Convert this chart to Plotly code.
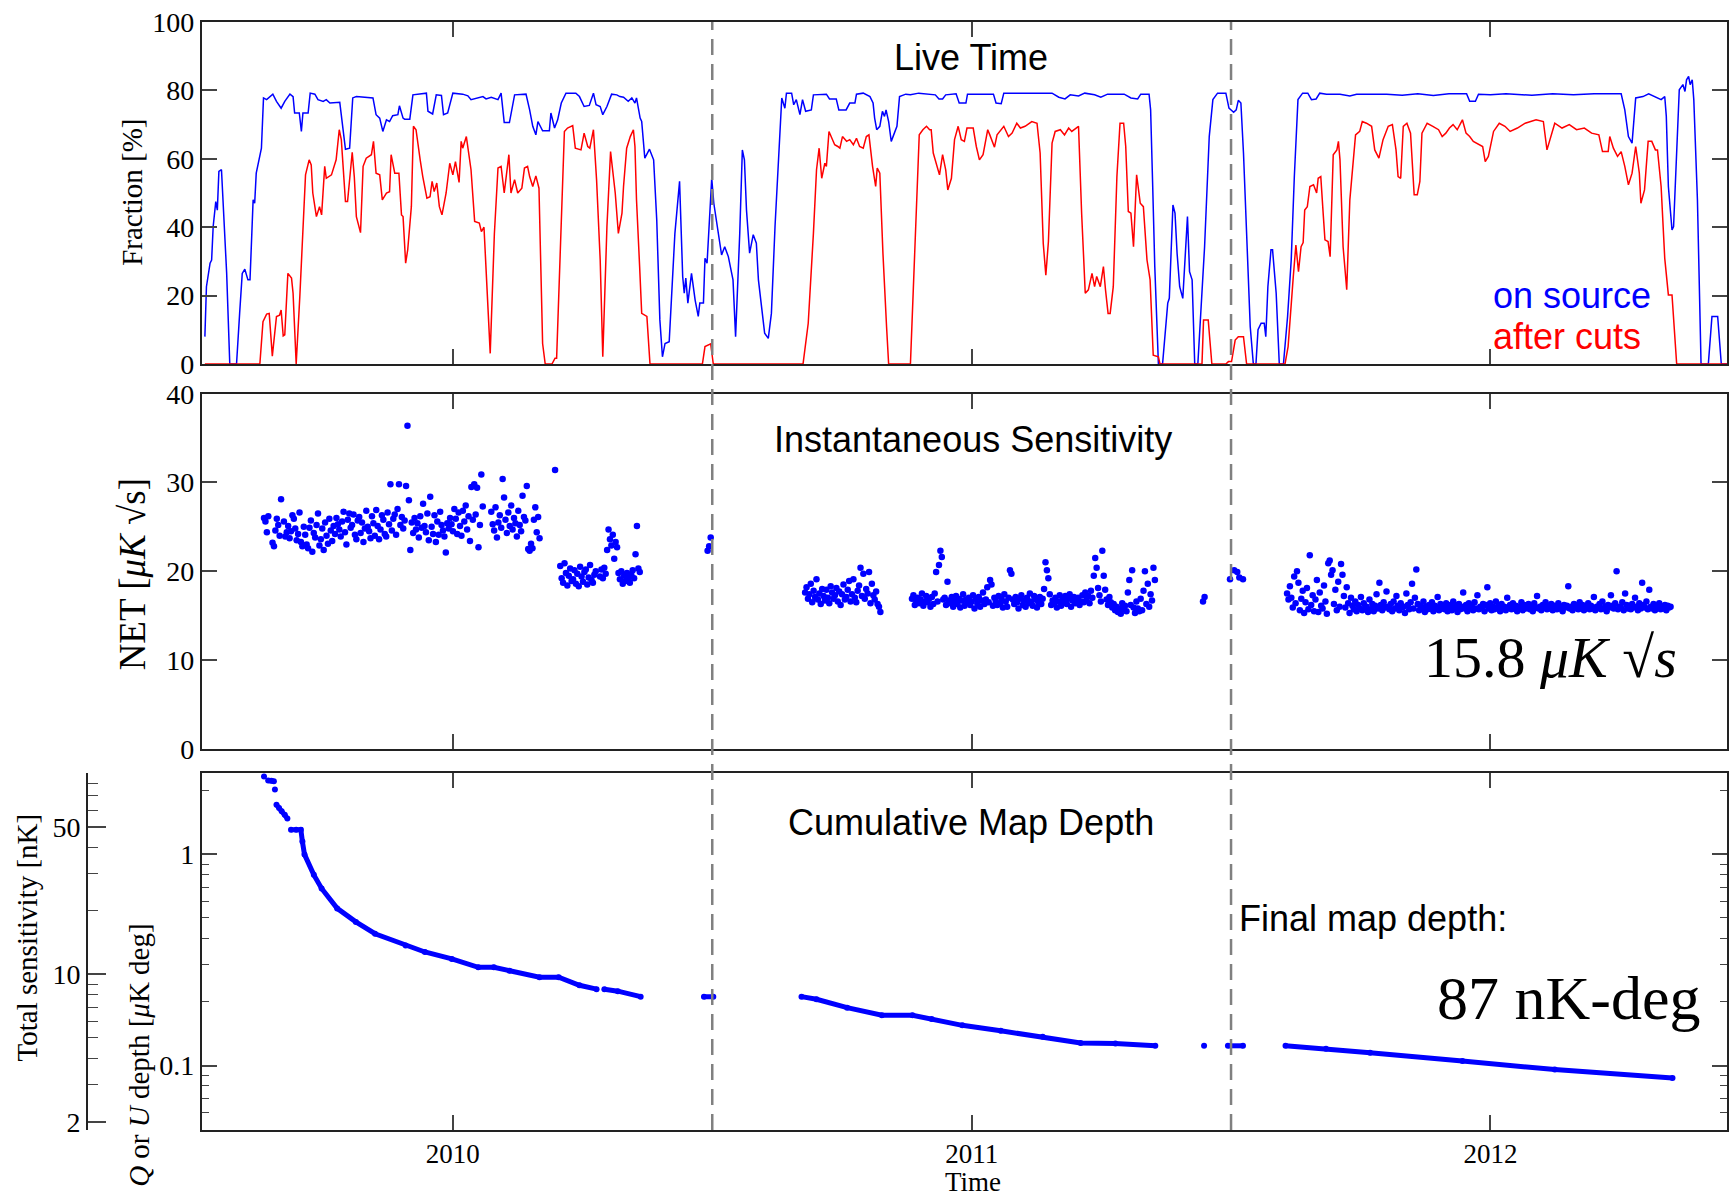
import plotly.graph_objects as go
import math

# ---------------- data ----------------
YEAR_TICKS = [2010, 2011, 2012]
YEAR_LABELS = ["2010", "2011", "2012"]
SEASON_BREAKS = [2010.5, 2011.5]
X_RANGE = [2009.516, 2012.456]

# Live time, fraction [%]  (decimal year, value)
on_source = [
    (2009.522, 8), (2009.525, 22.6), (2009.532, 29.5), (2009.535, 30.4), (2009.538, 40.2), (2009.543, 47.5),
    (2009.546, 45), (2009.549, 56.3), (2009.554, 56.8), (2009.557, 48), (2009.564, 26.5), (2009.570, 0),
    (2009.583, 0), (2009.589, 14.8), (2009.594, 26.5), (2009.599, 27.7), (2009.605, 24.6), (2009.609, 24.6),
    (2009.615, 48), (2009.618, 47), (2009.621, 55.8), (2009.631, 63.1), (2009.635, 77.8), (2009.641, 77.3),
    (2009.653, 78.9), (2009.660, 76.8), (2009.669, 74.8), (2009.676, 76.8), (2009.686, 78.9), (2009.692, 78.2),
    (2009.695, 73.4), (2009.704, 73.4), (2009.708, 68), (2009.711, 73.4), (2009.721, 73.4), (2009.725, 79.2),
    (2009.734, 78.9), (2009.740, 77.3), (2009.750, 76.8), (2009.756, 77.3), (2009.763, 76.3), (2009.782, 76.5),
    (2009.788, 68.5), (2009.793, 62.8), (2009.801, 63.1), (2009.807, 77.8), (2009.814, 78.2), (2009.827, 78),
    (2009.846, 77.8), (2009.852, 72.9), (2009.859, 71.9), (2009.865, 68), (2009.872, 71.4), (2009.878, 70.9),
    (2009.884, 72.6), (2009.894, 72.9), (2009.897, 75.5), (2009.904, 71.9), (2009.907, 71.6), (2009.917, 71.6),
    (2009.923, 78.7), (2009.949, 79.2), (2009.952, 73.9), (2009.961, 73.1), (2009.968, 78.7), (2009.978, 78.5),
    (2009.982, 72.9), (2009.990, 73.4), (2010.000, 79.2), (2010.019, 78.9), (2010.029, 78.4), (2010.035, 77.3),
    (2010.058, 78.2), (2010.064, 77.5), (2010.074, 78), (2010.087, 77.3), (2010.093, 79.2), (2010.099, 70.6),
    (2010.109, 70.6), (2010.119, 78.7), (2010.141, 78.9), (2010.148, 74.3), (2010.154, 69.5), (2010.160, 67),
    (2010.164, 70.9), (2010.173, 68.2), (2010.186, 68.2), (2010.189, 73.4), (2010.196, 69), (2010.202, 71.4),
    (2010.209, 76.3), (2010.218, 79.2), (2010.237, 79.2), (2010.244, 78.2), (2010.253, 75.3), (2010.263, 75.6),
    (2010.271, 79.2), (2010.276, 75.8), (2010.284, 75.3), (2010.289, 72.9), (2010.297, 75.3), (2010.306, 78.9),
    (2010.316, 78.7), (2010.322, 78.2), (2010.329, 78), (2010.338, 76.8), (2010.345, 77.8), (2010.351, 76.3),
    (2010.354, 77.8), (2010.361, 71.9), (2010.364, 70.9), (2010.370, 60.2), (2010.379, 62.8), (2010.387, 59.7),
    (2010.393, 42.1), (2010.399, 12.9), (2010.404, 2.1), (2010.409, 6), (2010.417, 6.5), (2010.428, 38.2),
    (2010.437, 53.4), (2010.443, 25.6), (2010.446, 20.7), (2010.449, 25.1), (2010.453, 17.8), (2010.460, 26.5),
    (2010.467, 18.7), (2010.473, 13.9), (2010.476, 17.8), (2010.483, 17.8), (2010.486, 30.9), (2010.490, 29.5),
    (2010.499, 54.3), (2010.503, 47), (2010.512, 37.3), (2010.518, 31.9), (2010.524, 34.3), (2010.531, 31.4),
    (2010.540, 24.6), (2010.545, 8), (2010.553, 38.2), (2010.558, 62.6), (2010.562, 59.7), (2010.566, 45),
    (2010.572, 32.4), (2010.579, 37.8), (2010.585, 35.3), (2010.589, 24.6), (2010.595, 16.8), (2010.601, 9),
    (2010.608, 7.5), (2010.614, 14.8), (2010.621, 40.2), (2010.627, 59.7), (2010.634, 77.8), (2010.640, 74.8),
    (2010.643, 79.2), (2010.653, 79.2), (2010.657, 75.8), (2010.662, 77.3), (2010.669, 72.9), (2010.674, 77.3),
    (2010.680, 73.9), (2010.691, 74.3), (2010.695, 78.7), (2010.720, 78.9), (2010.726, 77.5), (2010.739, 77.5),
    (2010.744, 74.3), (2010.758, 74.3), (2010.765, 76.3), (2010.775, 76.3), (2010.778, 78.9), (2010.791, 79.2),
    (2010.804, 78.2), (2010.810, 76.3), (2010.813, 71.9), (2010.817, 68.5), (2010.823, 69.5), (2010.828, 73.9),
    (2010.832, 72.4), (2010.835, 74.3), (2010.840, 70.9), (2010.845, 65.1), (2010.850, 67), (2010.856, 69.5),
    (2010.861, 78.2), (2010.873, 78.9), (2010.882, 78.7), (2010.898, 79.2), (2010.930, 78.7), (2010.937, 77.5),
    (2010.944, 77.5), (2010.950, 78.7), (2010.970, 79), (2010.976, 76.3), (2010.989, 76.3), (2010.992, 78.9),
    (2011.033, 78.9), (2011.042, 78.9), (2011.047, 76.3), (2011.057, 76.1), (2011.062, 79.2), (2011.155, 79.2),
    (2011.168, 78), (2011.180, 77.5), (2011.190, 78.7), (2011.206, 78.4), (2011.218, 79.2), (2011.237, 78.7),
    (2011.249, 78), (2011.262, 78.9), (2011.294, 78.9), (2011.307, 77.8), (2011.320, 77.5), (2011.326, 78.9),
    (2011.342, 78.9), (2011.345, 74.3), (2011.349, 51.9), (2011.353, 28.5), (2011.360, 0), (2011.368, 0),
    (2011.378, 17.8), (2011.381, 19.2), (2011.388, 46.5), (2011.392, 44.1), (2011.396, 32.4), (2011.401, 22.6),
    (2011.407, 19.2), (2011.416, 43.1), (2011.420, 27), (2011.425, 24.6), (2011.430, 0), (2011.436, 0),
    (2011.449, 34.3), (2011.458, 66.5), (2011.465, 77.3), (2011.474, 79.2), (2011.490, 79.2), (2011.496, 74.8),
    (2011.505, 73.6), (2011.510, 74.3), (2011.514, 77.1), (2011.519, 76.3), (2011.524, 61.7), (2011.530, 35.3),
    (2011.537, 10.9), (2011.543, 0), (2011.548, 0), (2011.552, 10), (2011.558, 11.9), (2011.564, 11.9),
    (2011.567, 8), (2011.571, 22.6), (2011.577, 33.4), (2011.580, 33.4), (2011.587, 20.7), (2011.593, 0),
    (2011.601, 0), (2011.609, 13.9), (2011.616, 30.4), (2011.622, 54.8), (2011.629, 77.3), (2011.638, 79.2),
    (2011.648, 79.2), (2011.655, 77.3), (2011.664, 77.5), (2011.671, 79.2), (2011.684, 78.9), (2011.710, 78.9),
    (2011.729, 78.4), (2011.742, 78.9), (2011.800, 78.9), (2011.830, 78.6), (2011.860, 79.0), (2011.890, 78.5),
    (2011.920, 79.0), (2011.954, 79.0), (2011.960, 76.8), (2011.971, 76.8), (2011.977, 78.9), (2012.000, 78.7),
    (2012.030, 79.0), (2012.080, 78.6), (2012.120, 79.0), (2012.160, 78.7), (2012.200, 79.0), (2012.252, 79.0),
    (2012.259, 74.3), (2012.266, 66.5), (2012.273, 64.6), (2012.280, 77.8), (2012.294, 78.2), (2012.305, 79),
    (2012.315, 78.2), (2012.329, 77.3), (2012.336, 78.2), (2012.339, 72.4), (2012.343, 51.9), (2012.350, 39.2),
    (2012.353, 40.2), (2012.357, 54.8), (2012.364, 80.2), (2012.371, 81.7), (2012.375, 79.7), (2012.378, 83.1),
    (2012.382, 84.1), (2012.385, 81.7), (2012.389, 83.1), (2012.392, 77.3), (2012.399, 48), (2012.406, 0),
    (2012.420, 0), (2012.427, 13.9), (2012.438, 13.9), (2012.445, 0), (2012.456, 0),
]

after_cuts = [
    (2009.522, 0), (2009.628, 0), (2009.634, 12.4), (2009.641, 14.6), (2009.646, 14.8), (2009.652, 2.3),
    (2009.660, 13.9), (2009.666, 14.3), (2009.669, 15.8), (2009.673, 8.2), (2009.676, 8.5), (2009.682, 26.5),
    (2009.689, 25.1), (2009.692, 20.7), (2009.698, 0), (2009.705, 19.7), (2009.716, 55.3), (2009.723, 59.7),
    (2009.727, 58.2), (2009.730, 50), (2009.737, 43.1), (2009.743, 46), (2009.747, 43.6), (2009.753, 57.8),
    (2009.756, 54.3), (2009.766, 55.3), (2009.775, 59.7), (2009.781, 68.5), (2009.785, 65.6), (2009.788, 57.8),
    (2009.793, 47.5), (2009.797, 47.5), (2009.806, 61.9), (2009.810, 54.8), (2009.814, 43.1), (2009.822, 38.4),
    (2009.827, 57.8), (2009.833, 60.2), (2009.843, 61.2), (2009.847, 65.1), (2009.852, 55.8), (2009.859, 55.3),
    (2009.864, 48), (2009.872, 50), (2009.878, 50.4), (2009.881, 61.2), (2009.888, 55.8), (2009.896, 55.8),
    (2009.901, 43.6), (2009.904, 43.1), (2009.909, 29.5), (2009.913, 33.4), (2009.920, 46), (2009.924, 69.5),
    (2009.929, 68.5), (2009.937, 59.7), (2009.942, 54.8), (2009.950, 48.5), (2009.956, 48.9), (2009.960, 53.4),
    (2009.964, 50.4), (2009.969, 52.9), (2009.974, 46), (2009.979, 43.6), (2009.984, 48), (2009.987, 50),
    (2009.994, 58.7), (2010.000, 55.3), (2010.005, 59.2), (2010.012, 53.1), (2010.016, 65.1), (2010.019, 63.1),
    (2010.026, 66.5), (2010.035, 56.8), (2010.042, 41.7), (2010.051, 41.2), (2010.055, 38.7), (2010.060, 40),
    (2010.072, 3.1), (2010.080, 38), (2010.087, 57.3), (2010.093, 57.8), (2010.099, 50), (2010.108, 61.2),
    (2010.112, 50), (2010.119, 53.9), (2010.125, 50), (2010.133, 51.4), (2010.138, 57.3), (2010.144, 57.8),
    (2010.148, 54.8), (2010.154, 51.9), (2010.160, 55), (2010.166, 51.4), (2010.173, 6), (2010.178, 0),
    (2010.191, 0), (2010.197, 1.7), (2010.200, 1.7), (2010.205, 24.6), (2010.215, 68), (2010.221, 69),
    (2010.231, 69.7), (2010.236, 63.1), (2010.247, 62.6), (2010.253, 67.5), (2010.260, 63.6), (2010.264, 63.1),
    (2010.271, 68.5), (2010.277, 53.9), (2010.284, 30.4), (2010.289, 2.1), (2010.297, 40.2), (2010.304, 62.1),
    (2010.313, 50), (2010.319, 38.2), (2010.326, 44.1), (2010.329, 51.9), (2010.335, 63.1), (2010.342, 66.5),
    (2010.348, 68.5), (2010.351, 63.6), (2010.354, 48), (2010.360, 28.5), (2010.364, 14.8), (2010.374, 13.9),
    (2010.380, 0), (2010.481, 0), (2010.486, 5.1), (2010.497, 5.9), (2010.502, 0), (2010.675, 0),
    (2010.685, 11.9), (2010.695, 38.2), (2010.701, 56.8), (2010.706, 63.1), (2010.711, 54.3), (2010.717, 58.7),
    (2010.720, 57.8), (2010.725, 68), (2010.731, 65.6), (2010.736, 64.1), (2010.742, 63.6), (2010.746, 63.1),
    (2010.751, 66.5), (2010.759, 65.1), (2010.765, 65.6), (2010.772, 64.1), (2010.778, 66), (2010.784, 63.6),
    (2010.791, 63.1), (2010.797, 66.5), (2010.802, 67), (2010.809, 57.8), (2010.815, 51.9), (2010.818, 57.3),
    (2010.823, 55.8), (2010.829, 32.4), (2010.836, 10.9), (2010.840, 0), (2010.882, 0), (2010.890, 34.3),
    (2010.899, 67), (2010.906, 68.5), (2010.913, 69.5), (2010.919, 68.5), (2010.922, 68.5), (2010.926, 61.7),
    (2010.932, 58.7), (2010.938, 55.3), (2010.944, 61.2), (2010.950, 56.8), (2010.954, 50.9), (2010.961, 54.3),
    (2010.967, 65.6), (2010.974, 69.5), (2010.980, 65.6), (2010.986, 65.1), (2010.991, 69), (2011.003, 69),
    (2011.009, 63.6), (2011.015, 59.7), (2011.022, 61.2), (2011.031, 68.5), (2011.035, 67), (2011.044, 63.4),
    (2011.049, 67), (2011.062, 69.5), (2011.071, 66.5), (2011.078, 67.5), (2011.087, 70.4), (2011.094, 69),
    (2011.103, 69.5), (2011.116, 70.9), (2011.126, 70.4), (2011.132, 61.7), (2011.138, 35.3), (2011.143, 26),
    (2011.148, 35.8), (2011.155, 64.6), (2011.161, 68), (2011.171, 68.5), (2011.179, 67), (2011.187, 69),
    (2011.193, 68), (2011.206, 69.5), (2011.212, 44.1), (2011.219, 20.7), (2011.225, 21.7), (2011.232, 26.5),
    (2011.237, 22.6), (2011.241, 25.6), (2011.248, 22.6), (2011.254, 28.5), (2011.258, 21.7), (2011.263, 14.8),
    (2011.267, 14.8), (2011.273, 22.6), (2011.280, 54.8), (2011.286, 70.4), (2011.293, 70.4), (2011.297, 63.6),
    (2011.302, 44.6), (2011.307, 44.1), (2011.312, 34.3), (2011.318, 55.3), (2011.325, 47), (2011.331, 46),
    (2011.338, 30.4), (2011.344, 24.6), (2011.350, 2.6), (2011.360, 2.1), (2011.363, 0), (2011.444, 0),
    (2011.447, 12.9), (2011.456, 12.9), (2011.463, 0), (2011.490, 0), (2011.495, 0.7), (2011.501, 0.7),
    (2011.508, 7), (2011.514, 8), (2011.524, 8), (2011.530, 0), (2011.604, 0), (2011.610, 5.1),
    (2011.620, 25.6), (2011.625, 34.8), (2011.630, 27), (2011.635, 34.3), (2011.639, 35.5), (2011.642, 45),
    (2011.647, 46), (2011.652, 51.9), (2011.659, 52.4), (2011.665, 50), (2011.668, 54.3), (2011.673, 54.8),
    (2011.678, 43.1), (2011.681, 36.3), (2011.687, 35.8), (2011.691, 31.4), (2011.697, 61.2), (2011.704, 62.6),
    (2011.707, 65.1), (2011.710, 59.7), (2011.716, 34.3), (2011.723, 21.7), (2011.729, 48), (2011.736, 58.7),
    (2011.740, 67), (2011.748, 68), (2011.753, 70.9), (2011.761, 70.4), (2011.771, 69.5), (2011.777, 62.6),
    (2011.785, 60.2), (2011.793, 65.6), (2011.803, 69.5), (2011.811, 70), (2011.818, 62.6), (2011.822, 54.8),
    (2011.827, 54.3), (2011.832, 69.5), (2011.839, 70.4), (2011.846, 67.5), (2011.850, 55.8), (2011.853, 49.5),
    (2011.859, 49.5), (2011.864, 53.4), (2011.868, 67.5), (2011.878, 70.4), (2011.889, 69.5), (2011.900, 68.5),
    (2011.907, 66.5), (2011.914, 67.5), (2011.921, 69), (2011.928, 70), (2011.936, 68.5), (2011.946, 71.4),
    (2011.953, 67.5), (2011.960, 66.5), (2011.967, 65.1), (2011.978, 64.1), (2011.985, 63.6), (2011.990, 59.2),
    (2011.996, 60.7), (2012.006, 68), (2012.017, 70.4), (2012.028, 69.5), (2012.038, 68), (2012.052, 69),
    (2012.067, 70.4), (2012.088, 71.4), (2012.102, 70.9), (2012.109, 62.6), (2012.124, 70.4), (2012.138, 69),
    (2012.152, 70), (2012.166, 68.5), (2012.181, 69), (2012.195, 67.5), (2012.209, 67), (2012.216, 62.1),
    (2012.227, 62.1), (2012.230, 66.5), (2012.237, 63.1), (2012.245, 60.7), (2012.252, 62.1), (2012.259, 57.8),
    (2012.266, 52.4), (2012.273, 55.8), (2012.280, 63.6), (2012.287, 55.8), (2012.290, 47), (2012.297, 50.9),
    (2012.304, 65.1), (2012.311, 65.1), (2012.318, 62.6), (2012.322, 62.6), (2012.329, 51.9), (2012.336, 30.9),
    (2012.343, 20.2), (2012.350, 20.2), (2012.359, 0), (2012.456, 0),
]

# Instantaneous NET [uK sqrt(s)], one value per observing day (None = no data that day)
net_2009_start = 2009.636
net_2009 = [
    26.0, 25.6, 24.4, 26.2, None, None, 23.2, 22.8, 24.6, 25.9,
    25.2, 24.0, 28.1, None, 25.6, 23.9, 24.4, 25.1, 23.7, 24.5,
    26.3, 25.9, 24.8, 23.5, 24.2, 26.6, 23.3, 22.8, 25.0, 24.1,
    23.0, 22.6, 24.9, 25.7, 22.2, 24.3, 23.8, 25.2, 26.5, 22.9,
    23.6, 24.8, 22.4, 25.5, 24.0, 23.1, 25.9, 24.6, 23.4, 25.1,
    24.2, 26.0, 25.3, 24.7, 23.9, 25.6, 26.7, 24.4, 23.0, 25.8,
    26.5, 24.9, 25.2, 26.4, 24.1, 23.6, 25.7, 26.1, 24.3, 25.5,
    23.3, 24.8, 26.8, 25.0, 24.5, 23.7, 26.2, 25.4, 24.0, 26.9,
    25.1, 23.6, 24.7, 26.3, 25.8, 24.2, 23.9, 26.6, 25.3, 29.8,
    24.6, 25.9, 26.4, 24.1, 27.0, 29.8, 25.2, 26.1, 24.8, 25.7,
    29.6, 36.4, 28.0, 22.4, 25.5, 24.3, 26.0, 24.7, 25.4, 23.8,
    26.2, 24.9, 27.6, 25.1, 24.4, 26.5, 23.5, 28.4, 25.0, 24.2,
    26.3, 23.3, 25.6, 24.1, 26.7, 25.2, 24.6, 23.9, 22.1, 25.4,
    24.8, 26.0, 25.3, 24.5, 27.0, 25.9, 24.2, 26.6, 25.1, 24.0,
    26.8, 25.6, 27.4, 24.7, 26.2, 23.4, 29.5, 25.8, 29.8, 26.4,
    29.4, 22.7, 25.2, 30.9, 27.3, None, None, None, None, None,
    26.7, 25.3, 24.6, 27.2, 23.8, 25.5, 26.3, 24.9, 30.4, 28.3,
    25.8, 24.3, 26.6, 25.1, 27.4, 24.7, 26.0, 25.4, 23.9, 26.8,
    25.2, 24.5, 28.5, 26.1, 25.7, 29.6, 22.5, 22.3, 23.1, 22.6,
    25.8, 27.2, 24.4, 26.1, 23.7,
]
net_2010a_start = 2010.207
net_2010a = [
    20.6, 19.2, 18.7, 20.9, 19.8, 18.4, 19.5, 20.3, 18.9, 19.1,
    20.1, 18.6, 19.7, 18.3, 20.5, 19.4, 18.8, 19.9, 20.2, 18.5,
    19.3, 20.7, 19.0, 18.7, 19.6, 20.0, None, None, 19.4, 20.2,
    19.2, 20.4, 19.7, 22.4, 24.7, 23.6, 22.9, 24.1, 21.4, 23.3,
    22.7, 19.8, 19.1, 20.0, 18.6, 19.5, 18.9, 19.8, 19.3, 18.7,
    19.6, 20.1, 19.2, 21.9, 25.1, 20.3, 19.9,
]
net_2010b_start = 2010.679
net_2010b = [
    17.6, 18.2, 16.9, 17.4, 18.6, 16.5, 17.8, 17.1, 19.1, 16.8,
    17.5, 16.3, 18.0, 17.2, 16.7, 17.9, 17.0, 16.4, 18.3, 17.6,
    16.9, 17.3, 18.1, 16.6, 17.7, 16.2, 17.4, 18.5, 16.8, 17.1,
    17.9, 18.9, 16.6, 17.4, 19.1, 17.0, 16.5, 17.8, 18.4, 20.4,
    17.2, 19.7, 16.9, 18.0, 17.5, 19.9, 16.4, 18.6, 17.3, 16.8,
    17.7, 16.3, 16.0, 15.4,
]
net_2011a_start = 2010.885
net_2011a = [
    16.9, 17.3, 16.2, 16.7, 17.0, 16.4, 16.8, 17.5, 16.1, 16.6,
    17.2, 16.5, 16.9, 16.0, 17.1, 16.3, 17.5, 19.9, 16.6, 20.7,
    22.3, 21.6, 16.8, 17.0, 16.2, 18.8, 16.7, 16.4, 17.1, 16.0,
    16.6, 17.2, 16.3, 16.9, 15.9, 16.7, 17.4, 16.1, 16.8, 16.5,
    17.0, 16.2, 16.6, 17.3, 15.8, 16.9, 16.4, 17.1, 16.0, 16.7,
    17.6, 16.3, 16.8, 18.2, 16.5, 19.0, 18.5, 16.1, 17.0, 16.6,
    16.2, 17.2, 16.4, 16.9, 15.9, 17.4, 16.6, 16.0, 17.0, 20.1,
    19.7, 16.8, 16.3, 17.1, 16.5, 15.8, 16.9, 17.3, 16.2, 16.7,
    16.0, 17.0, 16.4, 17.5, 16.6, 16.1, 17.2, 16.8, 15.9, 16.5,
    17.1, 16.3, 16.9, 18.0, 21.0, 20.1, 19.2, 17.4, 16.2, 16.7,
    16.4, 17.0, 15.9, 16.6, 17.3, 16.1, 16.8, 16.5, 17.2, 16.3,
    16.9, 17.4, 16.0, 16.7, 17.1, 16.4, 16.8, 17.0, 16.2, 16.6,
    17.3, 16.5, 17.6, 16.9, 17.2, 16.4, 17.8, 17.0, 19.5, 21.5,
    20.4, 18.1, 17.3, 16.6, 22.3, 19.5, 17.9, 16.8, 16.2, 17.1,
    16.5, 15.9, 16.3, 15.6, 16.0, 15.4, 15.8, 15.2, 16.4, 15.7,
    16.1, 15.5, 17.6, 19.0, 16.2, 20.1, 15.9, 15.3, 16.6, 15.8,
    15.5, 16.9, 15.6, 17.8, 20.0, 16.3, 18.6, 16.0, 17.4, 16.7,
    20.4, 19.0,
]
net_2012_start = 2011.608
net_2012 = [
    17.5, 16.8, 18.3, 17.0, 15.9, 19.4, 16.4, 20.0, 18.7, 15.6,
    16.9, 17.8, 15.3, 16.5, 18.1, 15.7, 21.8, 16.2, 17.3, 15.5,
    16.8, 19.0, 15.4, 17.6, 16.1, 15.8, 18.4, 16.6, 15.2, 20.9,
    21.2, 19.6, 20.1, 16.3, 17.9, 15.6, 18.8, 16.0, 20.8, 19.6,
    17.2, 15.9, 18.2, 16.4, 15.3, 17.0, 16.1, 15.7, 16.6, 15.5,
    16.2, 15.8, 17.1, 15.6, 16.4, 15.9, 16.0, 15.4, 16.8, 15.7,
    16.3, 15.5, 16.1, 17.4, 15.8, 18.7, 16.2, 15.6, 16.5, 15.9,
    17.7, 16.0, 15.7, 16.3, 15.5, 16.6, 15.8, 17.2, 16.1, 15.6,
    16.4, 15.9, 16.0, 15.3, 17.5, 16.2, 15.7, 16.5, 18.6, 15.8,
    17.0, 20.2, 16.3, 15.6, 16.1, 15.9, 16.6, 15.4, 16.0, 15.7,
    16.2, 15.8, 16.5, 15.5, 16.1, 15.9, 17.1, 15.6, 16.3, 15.8,
    16.0, 15.7, 16.4, 15.5, 15.9, 16.2, 15.6, 16.6, 15.8, 16.1,
    15.4, 16.3, 15.7, 16.0, 17.6, 15.8, 16.2, 15.5, 16.4, 15.9,
    16.1, 15.6, 16.5, 15.8, 17.3, 15.7, 16.0, 15.9, 16.3, 15.5,
    16.2, 18.2, 15.8, 16.4, 15.6, 16.0, 15.7, 16.6, 15.9, 16.1,
    15.5, 16.3, 15.8, 16.0, 15.6, 17.0, 15.9, 16.2, 15.7, 16.4,
    15.8, 16.1, 15.5, 16.0, 15.9, 16.5, 15.6, 16.2, 15.8, 16.0,
    16.3, 15.7, 16.1, 15.5, 16.4, 15.9, 17.2, 15.8, 16.0, 15.6,
    16.2, 15.9, 16.5, 15.7, 16.0, 15.8, 16.3, 15.6, 16.1, 15.9,
    15.7, 16.4, 15.8, 16.0, 15.5, 16.2, 15.9, 16.1, 18.3, 15.8,
    16.0, 15.6, 16.3, 15.9, 16.1, 15.7, 16.5, 15.8, 16.2, 15.6,
    16.0, 15.9, 16.4, 15.7, 16.1, 15.8, 17.1, 15.6, 16.0, 15.9,
    16.3, 15.7, 16.6, 15.8, 16.0, 15.5, 16.2, 15.9, 17.3, 16.1,
    15.8, 16.4, 20.0, 15.7, 16.0, 15.9, 16.5, 15.6, 17.5, 16.2,
    15.8, 16.1, 15.7, 16.3, 15.9, 17.0, 16.0, 15.6, 16.4, 15.8,
    18.7, 16.2, 15.9, 16.6, 15.7, 17.9, 16.0, 15.8, 16.3, 15.6,
    16.1, 15.9, 16.4, 15.7, 16.0, 15.8, 16.2, 15.6, 16.1, 15.9, 16.0,
]
net_single_t = [2010.197, 2010.491, 2010.494, 2010.497, 2011.446, 2011.449,
                2011.498, 2011.506, 2011.512, 2011.516, 2011.523]
net_single_v = [31.4, 22.3, 22.8, 23.8, 16.6, 17.1, 19.1, 20.1, 19.9, 19.3, 19.1]

# Cumulative Q/U map depth [uK deg]; None marks a break in the record
depth_t = [2009.636, None,
           2009.644, 2009.650, 2009.655, None,
           2009.657, None,
           2009.660, 2009.665, 2009.670, 2009.676, 2009.681, None,
           2009.688, 2009.698, 2009.707, 2009.710, 2009.714, 2009.732, 2009.747, 2009.777,
           2009.813, 2009.850, 2009.909, 2009.946, 2009.998, 2010.049, 2010.079, 2010.109,
           2010.167, 2010.204, 2010.244, 2010.277, None,
           2010.292, 2010.318, 2010.362, None,
           2010.484, 2010.502, None,
           2010.672, 2010.701, 2010.760, 2010.827, 2010.886, 2010.923, 2010.982, 2011.056,
           2011.137, 2011.210, 2011.277, 2011.354, None,
           2011.448, None,
           2011.494, 2011.523, None,
           2011.605, 2011.683, 2011.768, 2011.946, 2012.124, 2012.351]
depth_v = [2.34, None,
           2.24, 2.23, 2.22, None,
           2.03, None,
           1.72, 1.66, 1.60, 1.54, 1.48, None,
           1.31, 1.31, 1.31, 1.15, 1.00, 0.80, 0.69, 0.555,
           0.479, 0.421, 0.370, 0.345, 0.320, 0.292, 0.292, 0.281,
           0.262, 0.262, 0.240, 0.230, None,
           0.230, 0.225, 0.212, None,
           0.212, 0.212, None,
           0.212, 0.206, 0.188, 0.173, 0.173, 0.166, 0.155, 0.146,
           0.137, 0.128, 0.127, 0.124, None,
           0.124, None,
           0.124, 0.124, None,
           0.124, 0.120, 0.115, 0.105, 0.0957, 0.0873]

DEPTH_TO_TOTAL_NK = 37.0          # conversion of the outer axis (uK deg -> nK)
DEPTH_RANGE = [0.0495, 2.43]
DEPTH_MAJOR = [0.1, 1]
DEPTH_MINOR = [0.05, 0.06, 0.07, 0.08, 0.09, 0.2, 0.3, 0.4, 0.5, 0.6, 0.7, 0.8, 0.9, 2]
TOTAL_MAJOR = [2, 10, 50]
TOTAL_MINOR = [3, 4, 5, 6, 7, 8, 9, 20, 30, 40, 60, 70, 80, 90]

# ---------------- figure ----------------
W, H = 1729, 1196
M_T, M_B = 22, 66
PAPER_H = H - M_T - M_B
PLOT_LEFT = 202

def px(xp):
    return xp / W

def py(yp):
    return (H - M_B - yp) / PAPER_H

BLUE = "#0000ff"
RED = "#ff0000"
SERIF = "Liberation Serif, Times New Roman, serif"
SANS = "Liberation Sans, Arial, sans-serif"
AX = "#222222"
TK = "#444444"

fig = go.Figure()

fig.add_trace(go.Scatter(x=[p[0] for p in on_source], y=[p[1] for p in on_source],
                         mode="lines", line=dict(color=BLUE, width=1.5),
                         xaxis="x", yaxis="y", showlegend=False, hoverinfo="skip"))
fig.add_trace(go.Scatter(x=[p[0] for p in after_cuts], y=[p[1] for p in after_cuts],
                         mode="lines", line=dict(color=RED, width=1.5),
                         xaxis="x", yaxis="y", showlegend=False, hoverinfo="skip"))

net_x, net_y = [], []
for start, vals in [(net_2009_start, net_2009), (net_2010a_start, net_2010a),
                    (net_2010b_start, net_2010b), (net_2011a_start, net_2011a),
                    (net_2012_start, net_2012)]:
    for i, v in enumerate(vals):
        if v is not None:
            net_x.append(start + i / 365.25)
            net_y.append(v)
net_x += net_single_t
net_y += net_single_v
fig.add_trace(go.Scatter(x=net_x, y=net_y, mode="markers",
                         marker=dict(color=BLUE, size=6.5, line=dict(width=0)),
                         xaxis="x2", yaxis="y2", showlegend=False, hoverinfo="skip"))

fig.add_trace(go.Scatter(x=depth_t, y=depth_v, mode="lines+markers",
                         line=dict(color=BLUE, width=5),
                         marker=dict(color=BLUE, size=6, line=dict(width=0)),
                         connectgaps=False,
                         xaxis="x3", yaxis="y3", showlegend=False, hoverinfo="skip"))
# same record expressed on the outer "total sensitivity" axis (invisible, keeps that axis drawn)
fig.add_trace(go.Scatter(x=depth_t, y=[None if v is None else v * DEPTH_TO_TOTAL_NK for v in depth_v],
                         mode="lines", line=dict(color="rgba(0,0,0,0)", width=0),
                         xaxis="x3", yaxis="y4", showlegend=False, hoverinfo="skip"))

xdom = [PLOT_LEFT / W, 1.0]
common_x = dict(range=X_RANGE, domain=xdom, showline=True, linecolor=AX, linewidth=1.8,
                mirror="ticks", ticks="inside", ticklen=15, tickwidth=1.5, tickcolor=TK,
                tickmode="array", tickvals=YEAR_TICKS, ticktext=YEAR_LABELS,
                showgrid=False, zeroline=False,
                tickfont=dict(family=SERIF, size=27, color="black"))
common_y = dict(showline=True, linecolor=AX, linewidth=1.8, mirror="ticks",
                ticks="inside", ticklen=15, tickwidth=1.5, tickcolor=TK,
                showgrid=False, zeroline=False,
                tickfont=dict(family=SERIF, size=28, color="black"))

d_top = [py(364), py(22)]
d_mid = [py(748.7), py(393.7)]
d_bot = [0.0, py(773)]

fig.update_layout(
    width=W, height=H,
    margin=dict(l=0, r=0, t=M_T, b=M_B),
    paper_bgcolor="white", plot_bgcolor="white",
    xaxis=dict(common_x, anchor="y", showticklabels=False),
    xaxis2=dict(common_x, anchor="y2", showticklabels=False, matches="x"),
    xaxis3=dict(common_x, anchor="y3", showticklabels=True, matches="x", ticklabelstandoff=-1),
    yaxis=dict(common_y, domain=d_top, anchor="x", range=[0, 100],
               tickmode="array", tickvals=[0, 20, 40, 60, 80, 100]),
    yaxis2=dict(common_y, domain=d_mid, anchor="x2", range=[0, 40],
                tickmode="array", tickvals=[0, 10, 20, 30, 40]),
    yaxis3=dict(common_y, domain=d_bot, anchor="x3", type="log",
                range=[math.log10(DEPTH_RANGE[0]), math.log10(DEPTH_RANGE[1])],
                tickmode="array", tickvals=DEPTH_MAJOR, ticktext=["0.1", "1"],
                minor=dict(tickmode="array", tickvals=DEPTH_MINOR, ticks="inside",
                           ticklen=7, tickwidth=1.2, tickcolor=TK, showgrid=False)),
    yaxis4=dict(domain=d_bot, overlaying="y3", anchor="free", position=px(87), side="left",
                type="log",
                range=[math.log10(DEPTH_RANGE[0] * DEPTH_TO_TOTAL_NK),
                       math.log10(DEPTH_RANGE[1] * DEPTH_TO_TOTAL_NK)],
                showline=True, linecolor=AX, linewidth=1.8,
                ticks="inside", ticklen=18, tickwidth=1.5, tickcolor=TK,
                tickmode="array", tickvals=TOTAL_MAJOR, ticktext=[str(v) for v in TOTAL_MAJOR],
                minor=dict(tickmode="array", tickvals=TOTAL_MINOR, ticks="inside",
                           ticklen=10, tickwidth=1.2, tickcolor=TK, showgrid=False),
                showgrid=False, zeroline=False,
                tickfont=dict(family=SERIF, size=28, color="black")),
)

for xb in SEASON_BREAKS:
    fig.add_shape(type="line", xref="x", yref="paper", x0=xb, x1=xb, y0=0, y1=1,
                  line=dict(color="#808080", width=2.5, dash="16px,9px"), layer="above")

def note(text, x, y, size, family, color="black", xanchor="center", angle=0):
    fig.add_annotation(text=text, x=x, y=y, xref="paper", yref="paper", showarrow=False,
                       xanchor=xanchor, yanchor="middle", textangle=angle,
                       font=dict(family=family, size=size, color=color))

note("Live Time", px(972.6), py(57), 36, SANS)
note("Instantaneous Sensitivity", px(973.7), py(439), 36, SANS)
note("Cumulative Map Depth", px(972), py(822.6), 36, SANS)
note("on source", px(1493), py(295.5), 36, SANS, color=BLUE, xanchor="left")
note("after cuts", px(1493), py(336.3), 36, SANS, color=RED, xanchor="left")
note("Final map depth:", px(1238), py(918.5), 36, SANS, xanchor="left")
note("87 nK-deg", px(1437), py(998), 62, SERIF, xanchor="left")
note("15.8 <i>μK</i> √<i>s</i>", px(1424), py(658), 58, SERIF, xanchor="left")

note("Fraction [%]", px(132), py(192), 29, SERIF, angle=-90)
note("NET [<i>μK</i> √s]", px(133), py(574.5), 37, SERIF, angle=-90)
note("Total sensitivity [nK]", px(27), py(937.5), 29, SERIF, angle=-90)
note("<i>Q</i> or <i>U</i> depth [<i>μ</i>K deg]", px(139), py(1055), 29, SERIF, angle=-90)
note("Time", px(973.7), py(1182), 27, SERIF)

fig.write_html("out.html", config={"displayModeBar": False},
               post_script="document.body.style.margin='0';")
